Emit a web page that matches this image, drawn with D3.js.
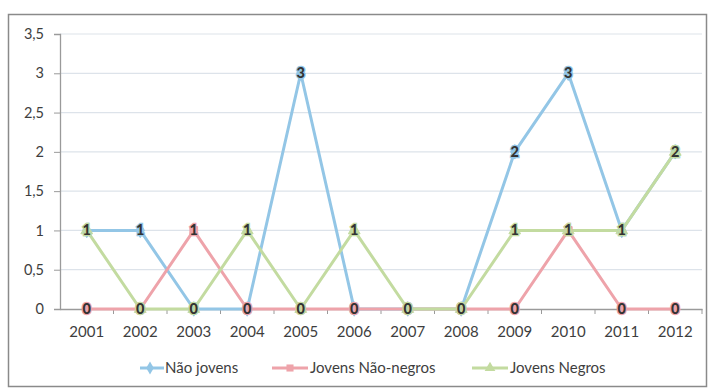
<!DOCTYPE html>
<html><head><meta charset="utf-8">
<script src="https://cdn.jsdelivr.net/npm/d3@7/dist/d3.min.js"></script>
<style>body{margin:0;background:#fff}svg{display:block}</style>
</head><body><svg id="c" width="712" height="389"></svg>
<script>
const years = ["2001","2002","2003","2004","2005","2006","2007","2008","2009","2010","2011","2012"];
const naoJovens = [1,1,0,0,3,0,0,0,2,3,1,2];
const jovensNaoNegros = [0,0,1,0,0,0,0,0,0,1,0,0];
const jovensNegros = [1,0,0,1,0,1,0,0,1,1,1,2];
const yTicks = [0,0.5,1,1.5,2,2.5,3,3.5];
const seriesNames = ["Não jovens","Jovens Não-negros","Jovens Negros"];
const seriesColors = ["#93c6e6","#eea3aa","#c3dba0"];
const markerTypes = [d3.symbolDiamond, d3.symbolSquare, d3.symbolTriangle];

const svg = d3.select("#c");
const font = "Lato, 'Open Sans', sans-serif";
svg.append("rect").attr("x",8.5).attr("y",14.5).attr("width",698).attr("height",372)
  .attr("fill","#fff").attr("stroke","#8a8a8a").attr("stroke-width",1.5);

const L=60, R=702, T=34, B=309;
const x = d3.scaleBand().domain(years).range([L,R]);
const y = d3.scaleLinear().domain([0,3.5]).range([B,T]);

// gridlines
svg.append("g").selectAll("line").data(yTicks.filter(d=>d>0)).join("line")
  .attr("x1",L).attr("x2",R).attr("y1",d=>y(d)).attr("y2",d=>y(d))
  .attr("stroke","#dde3ea").attr("stroke-width",1.2);

// y axis
const fmt = d => String(d).replace(".",",");
const ya = svg.append("g").attr("transform",`translate(${L},0)`)
  .call(d3.axisLeft(y).tickValues(yTicks).tickFormat(fmt).tickSize(6).tickPadding(10));
ya.select(".domain").attr("stroke","#9a9a9a").attr("stroke-width",1.3);
ya.selectAll(".tick line").attr("stroke","#9a9a9a");
ya.selectAll("text").attr("font-family",font).attr("font-size",14.5).attr("fill","#3e3e3e");

// x axis
const xa = svg.append("g").attr("transform",`translate(0,${B})`)
  .call(d3.axisBottom(x).tickSize(0).tickPadding(17));
xa.select(".domain").attr("stroke","#9a9a9a").attr("stroke-width",1.3);
xa.selectAll("text").attr("font-family",font).attr("font-size",15).attr("fill","#3e3e3e");
xa.selectAll("line.bt").data(years.slice(1).concat(["end"])).join("line").attr("class","bt")
  .attr("x1",(d,i)=>L+(i+1)*x.step()).attr("x2",(d,i)=>L+(i+1)*x.step())
  .attr("y1",0).attr("y2",5).attr("stroke","#9a9a9a");

const allSeries = [naoJovens, jovensNaoNegros, jovensNegros];
const line = d3.line().x((d,i)=>x(years[i])+x.bandwidth()/2).y(d=>y(d));
allSeries.forEach((s,k)=>{
  svg.append("path").datum(s).attr("d",line).attr("fill","none")
    .attr("stroke",seriesColors[k]).attr("stroke-width",3).attr("stroke-linejoin","round");
});
allSeries.forEach((s,k)=>{
  svg.append("g").selectAll("path").data(s).join("path")
    .attr("transform",(d,i)=>`translate(${x(years[i])+x.bandwidth()/2},${y(d)})`)
    .attr("d",d3.symbol().type(markerTypes[k]).size(60))
    .attr("fill",seriesColors[k]).attr("stroke",seriesColors[k]);
});
allSeries.forEach((s,k)=>{
  svg.append("g").selectAll("text").data(s).join("text")
    .attr("x",(d,i)=>x(years[i])+x.bandwidth()/2).attr("y",d=>y(d)+5)
    .attr("text-anchor","middle").attr("font-family",font).attr("font-weight","900")
    .attr("font-size",14.5).attr("fill","#333")
    .attr("stroke",seriesColors[k]).attr("stroke-width",2.5).attr("paint-order","stroke")
    .text(d=>d);
});

// legend
const legX = [140, 272, 472];
const lg = svg.append("g");
seriesNames.forEach((n,k)=>{
  const g = lg.append("g").attr("transform",`translate(${legX[k]},368)`);
  g.append("line").attr("x1",0).attr("x2",k===0?24:36).attr("stroke",seriesColors[k]).attr("stroke-width",3);
  g.append("path").attr("transform",`translate(${k===0?10:18},0)`).attr("d",d3.symbol().type(markerTypes[k]).size(50))
    .attr("fill",seriesColors[k]);
  g.append("text").attr("x",k===0?25:38).attr("y",5).attr("font-family",font).attr("font-size",15)
    .attr("fill","#3e3e3e").text(n);
});
</script></body></html>
